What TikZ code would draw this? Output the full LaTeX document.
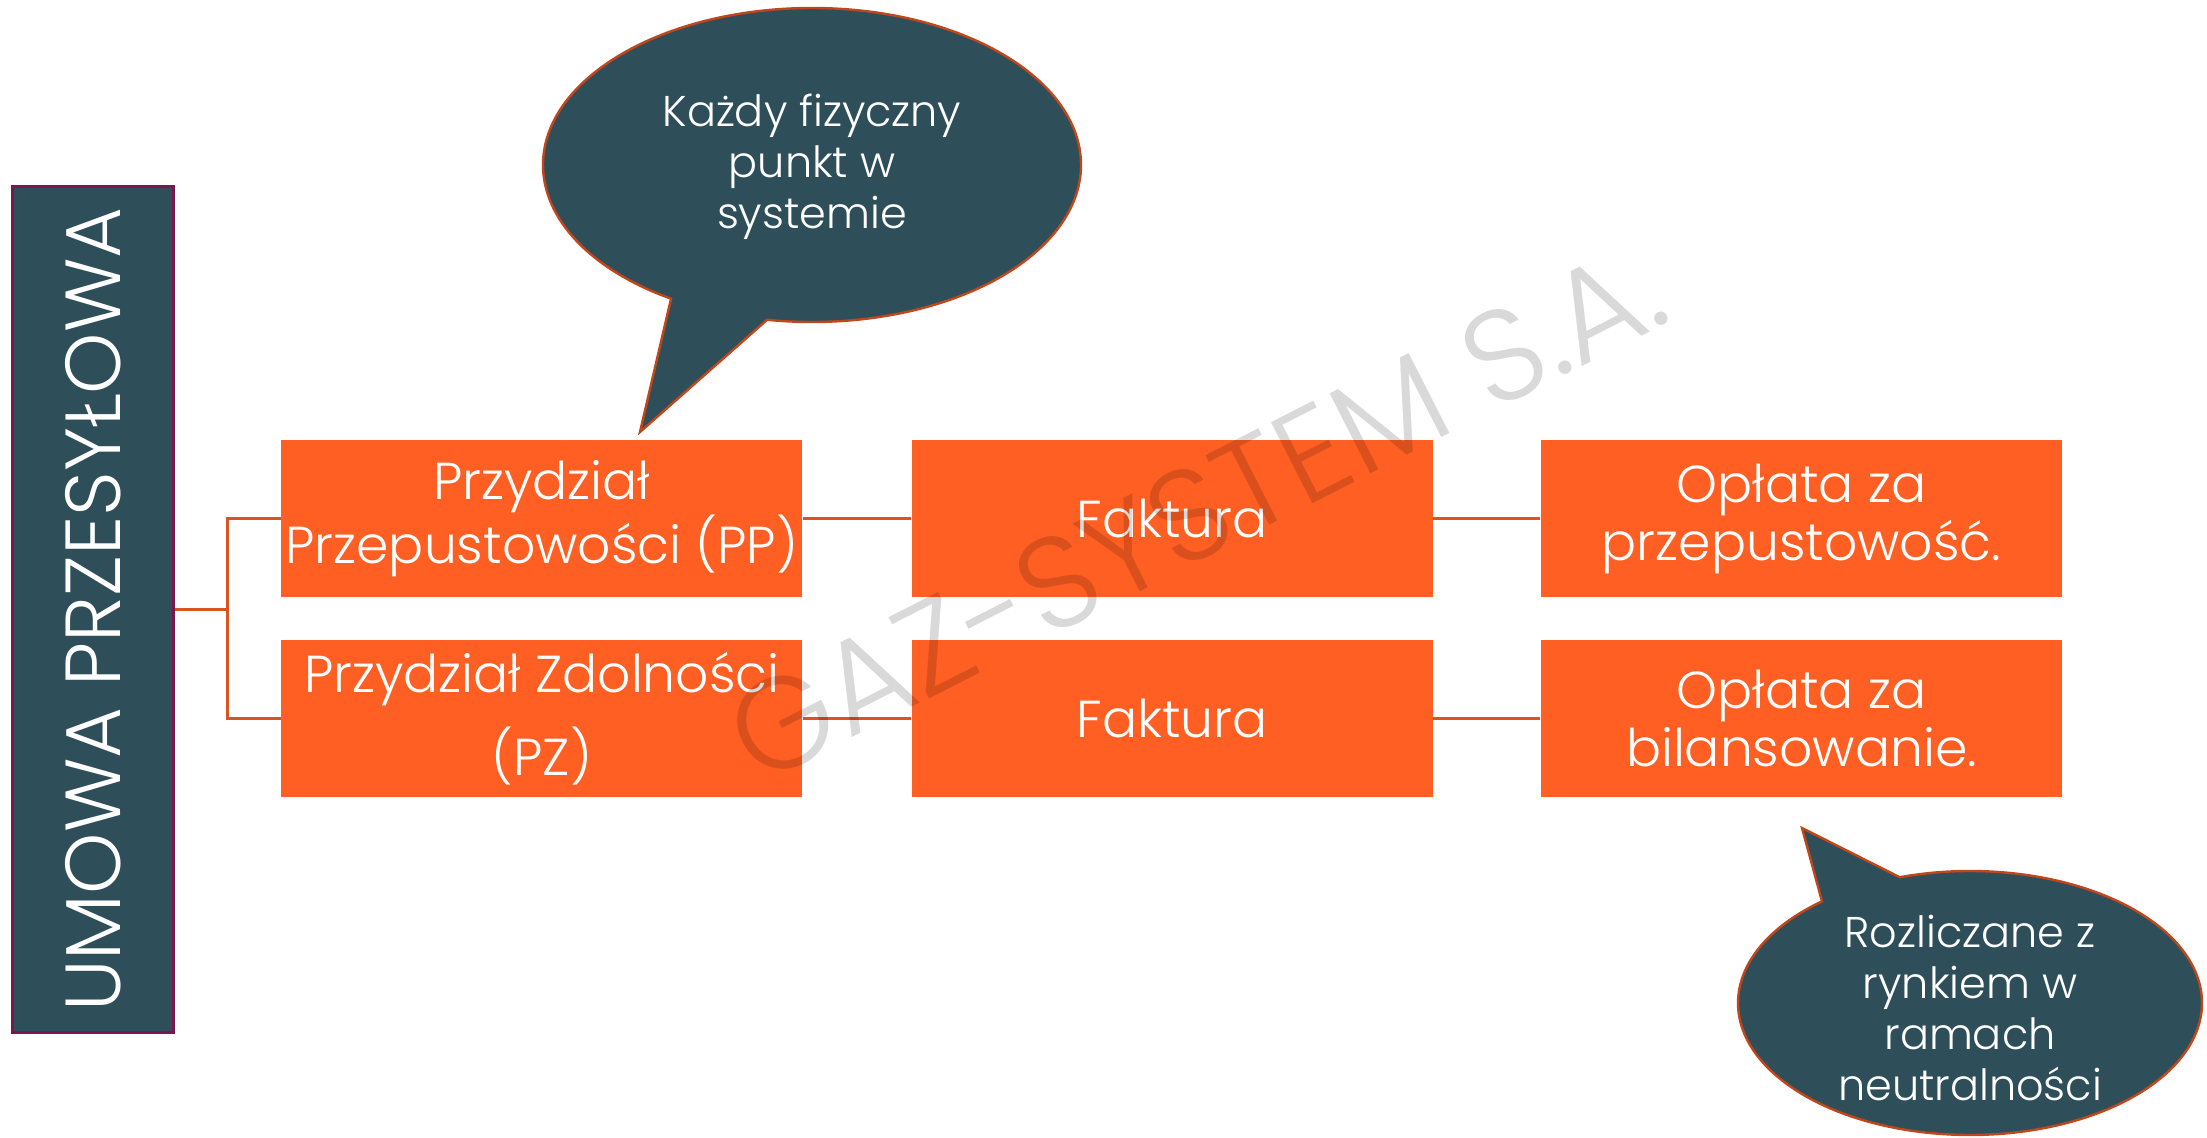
\documentclass[tikz,border=0pt]{standalone}
\usepackage{fontspec}
\setmainfont{Poppins Light}
\usetikzlibrary{shapes.callouts}
\tikzset{every picture/.style={line width=0.75pt}}

\definecolor{slate}{RGB}{46,79,90}
\definecolor{plum}{RGB}{123,22,80}
\definecolor{flame}{RGB}{255,95,34}
\definecolor{rust}{RGB}{192,70,27}
\definecolor{wire}{RGB}{218,84,31}

\tikzset{
  titlebox/.style={draw=plum, line width=1.5pt, fill=slate, minimum width=80.5pt, minimum height=422.5pt, inner sep=0pt},
  stepbox/.style={fill=flame, minimum width=260.5pt, minimum height=78.5pt, inner sep=0pt, text=white, align=center, font=\fontsize{26}{29}\selectfont},
  bubble/.style={ellipse callout, draw=rust, line width=1.2pt, fill=slate, callout pointer arc=22, inner sep=0pt},
  bubbletext/.style={text=white, align=center, font=\fontsize{21.5}{25.5}\selectfont},
  link/.style={draw=wire, line width=1.5pt},
  stamp/.style={text=black, opacity=0.15, rotate=27, inner sep=0pt, font=\fontsize{65}{65}\selectfont}
}

\begin{document}
\begin{tikzpicture}[x=0.5pt,y=0.5pt,yscale=-1,xscale=1]
\useasboundingbox (0,0) rectangle (2207,1138);

%Shape: Rectangle (title)
\node [titlebox] (umowa) at (93,609.5) {};
% Text Node
\node [text=white, rotate=90, inner sep=0pt, font=\fontsize{39}{39}\selectfont] (umowat) at (umowa.center) {UMOWA PRZESYŁOWA};

%Shape: Rectangle (row 1)
\node [stepbox] (pp) at (541.8,518.5) {Przydział\\Przepustowości (PP)};
\node [stepbox] (f1) at (1172,518.5) {Faktura};
\node [stepbox] (op1) at (1801.5,518.5) {Opłata za\\przepustowość.};
%Shape: Rectangle (row 2)
\node [stepbox, font=\fontsize{26}{41.5}\selectfont] (pz) at (541.8,718.5) {Przydział Zdolności\\(PZ)};
\node [stepbox] (f2) at (1172,718.5) {Faktura};
\node [stepbox] (op2) at (1801.5,718.5) {Opłata za\\bilansowanie.};

%Straight Lines
\coordinate (split) at (227,609.5);
\draw [link] (umowa.east) -- (split);
\draw [link] (pp.west) -| (split) |- (pz.west);
\draw [link] (pp) -- (f1);
\draw [link] (f1) -- (op1);
\draw [link] (pz) -- (f2);
\draw [link] (f2) -- (op2);

%Shape: Callout
\node [bubble, minimum width=269pt, minimum height=157pt, callout absolute pointer={(640,432)}] (b1) at (812,165) {};
% Text Node
\node [bubbletext] (b1t) at (812,167) {Każdy fizyczny\\punkt w\\systemie};

%Shape: Callout
\node [bubble, minimum width=232pt, minimum height=132pt, callout absolute pointer={(1802,828)}] (b2) at (1970,1003) {};
% Text Node
\node [bubbletext] (b2t) at (1970,1008) {Rozliczane z\\rynkiem w\\ramach\\neutralności};

% Text Node
\node [stamp] (stamp) at (1196,512) {GAZ-SYSTEM S.A.};

\end{tikzpicture}
\end{document}
